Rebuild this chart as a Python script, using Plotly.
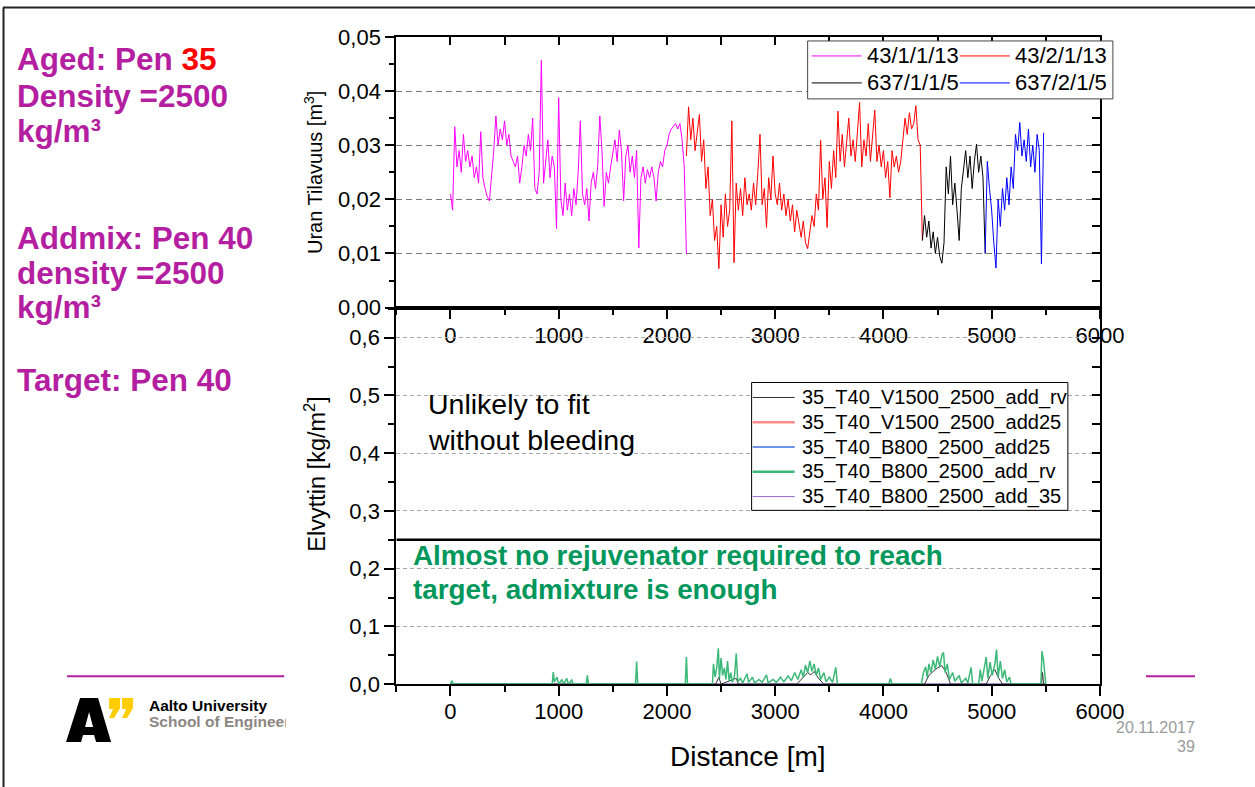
import numpy as np
import plotly.graph_objects as go

W, H = 1255, 787
FONT = "Liberation Sans, Arial, sans-serif"

# ---------------- data: top chart (Uran Tilavuus, m3) ----------------
STEP_M = 20
mag_start = 0
mag_vals = [0.021, 0.018, 0.0334, 0.026, 0.029, 0.025, 0.032, 0.027, 0.029, 0.026,
            0.028, 0.024, 0.026, 0.023, 0.0325, 0.024, 0.022, 0.0205, 0.0197, 0.024,
            0.029, 0.0354, 0.030, 0.033, 0.031, 0.0345, 0.030, 0.032, 0.028, 0.027,
            0.026, 0.028, 0.023, 0.026, 0.030, 0.028, 0.032, 0.029, 0.035, 0.022,
            0.021, 0.025, 0.0457, 0.023, 0.027, 0.031, 0.024, 0.028, 0.026, 0.0146,
            0.0388, 0.020, 0.017, 0.023, 0.018, 0.021, 0.017, 0.022, 0.019, 0.025,
            0.0345, 0.021, 0.019, 0.022, 0.016, 0.023, 0.025, 0.022, 0.026, 0.0354,
            0.029, 0.0187, 0.025, 0.023, 0.026, 0.029, 0.031, 0.027, 0.0328, 0.029,
            0.0197, 0.028, 0.030, 0.025, 0.028, 0.024, 0.029, 0.011, 0.024, 0.026,
            0.023, 0.0255, 0.024, 0.026, 0.024, 0.0197, 0.025, 0.027, 0.026, 0.029,
            0.030, 0.032, 0.033, 0.0335, 0.034, 0.033, 0.034, 0.031, 0.026, 0.0099]
red_start = 2180
red_vals = [0.028, 0.0371, 0.031, 0.035, 0.029, 0.033, 0.0357, 0.027, 0.031, 0.022,
            0.026, 0.017, 0.020, 0.0124, 0.015, 0.0072, 0.019, 0.013, 0.021, 0.015,
            0.018, 0.0345, 0.0083, 0.023, 0.018, 0.022, 0.017, 0.024, 0.019, 0.021,
            0.018, 0.023, 0.019, 0.025, 0.032, 0.019, 0.022, 0.0148, 0.024, 0.020,
            0.028, 0.021, 0.019, 0.023, 0.018, 0.021, 0.017, 0.020, 0.016, 0.019,
            0.014, 0.018, 0.015, 0.013, 0.016, 0.012, 0.0109, 0.014, 0.017, 0.015,
            0.021, 0.018, 0.0309, 0.020, 0.024, 0.0148, 0.027, 0.022, 0.029, 0.024,
            0.0363, 0.027, 0.032, 0.026, 0.030, 0.035, 0.028, 0.031, 0.027, 0.033,
            0.0379, 0.026, 0.031, 0.028, 0.034, 0.027, 0.032, 0.0365, 0.027, 0.030,
            0.026, 0.029, 0.024, 0.027, 0.0203, 0.029, 0.026, 0.028, 0.025, 0.027,
            0.031, 0.035, 0.032, 0.036, 0.033, 0.034, 0.0373, 0.031, 0.030, 0.0124]
blk_start = 4360
blk_vals = [0.0124, 0.017, 0.013, 0.016, 0.011, 0.014, 0.010, 0.013, 0.0095, 0.0082,
            0.012, 0.026, 0.021, 0.028, 0.019, 0.023, 0.018, 0.0124, 0.022, 0.026,
            0.029, 0.024, 0.028, 0.022, 0.027, 0.0302, 0.025, 0.028, 0.024, 0.010]
blu_start = 4940
blu_vals = [0.010, 0.027, 0.022, 0.018, 0.012, 0.0073, 0.020, 0.015, 0.022, 0.018,
            0.024, 0.019, 0.026, 0.022, 0.032, 0.029, 0.0342, 0.028, 0.031, 0.027,
            0.033, 0.026, 0.030, 0.025, 0.032, 0.029, 0.0081, 0.0323]
top_names = ["43/1/1/13", "43/2/1/13", "637/1/1/5", "637/2/1/5"]
top_colors = ["#ff00ff", "#ff0000", "#000000", "#0000ff"]

# ---------------- data: bottom chart (Elvyttin, kg/m2) ----------------
grn_d = [0, 15, 25, 940, 950, 960, 985, 1000, 1030, 1045, 1075, 1090, 1120, 1135,
         1255, 1265, 1275, 1710, 1720, 1730, 2170, 2180, 2190, 2420, 2430, 2445,
         2460, 2475, 2485, 2500, 2515, 2530, 2545, 2560, 2575, 2590, 2605, 2625,
         2640, 2655, 2680, 2700, 2740, 2755, 2790, 2810, 2850, 2880, 2920, 2935,
         2980, 3010, 3050, 3080, 3120, 3150, 3180, 3210, 3240, 3260, 3280, 3300,
         3320, 3340, 3360, 3380, 3400, 3420, 3450, 3470, 3500, 3530, 3560, 3575,
         4050, 4065, 4080, 4350, 4370, 4390, 4405, 4420, 4440, 4460, 4480, 4500,
         4520, 4540, 4555, 4570, 4590, 4610, 4640, 4660, 4700, 4720, 4760, 4780,
         4810, 4825, 4880, 4895, 4910, 4930, 4950, 4965, 4985, 5005, 5030, 5045,
         5060, 5080, 5100, 5120, 5140, 5165, 5180, 5455, 5465, 5480, 5495, 5500]
grn_v = [0, 0.006, 0, 0, 0.021, 0.004, 0.012, 0, 0.008, 0, 0.01, 0, 0.007, 0,
         0, 0.015, 0, 0, 0.039, 0, 0, 0.047, 0, 0, 0.035, 0.012,
         0.028, 0.062, 0.01, 0.045, 0.015, 0.028, 0.008, 0.04, 0.005, 0.02, 0.003, 0.015,
         0.053, 0.004, 0.01, 0.002, 0.018, 0.003, 0.012, 0.002, 0.008, 0.003, 0.016, 0.002,
         0.008, 0.003, 0.012, 0.004, 0.014, 0.006, 0.02, 0.008, 0.025, 0.012, 0.033, 0.02,
         0.04, 0.022, 0.035, 0.015, 0.028, 0.008, 0.02, 0.004, 0.012, 0.003, 0.029, 0,
         0, 0.01, 0, 0, 0.02, 0.03, 0.012, 0.035, 0.02, 0.042, 0.025, 0.048,
         0.03, 0.05, 0.055, 0.02, 0.035, 0.008, 0.02, 0.005, 0.015, 0.002, 0.01, 0.002,
         0.029, 0, 0, 0.025, 0.005, 0.03, 0.047, 0.01, 0.038, 0.015, 0.035, 0.06,
         0.012, 0.04, 0.01, 0.025, 0.004, 0.012, 0, 0, 0.057, 0.04, 0.003, 0]
gry_d = [0, 2450, 2480, 2500, 2640, 2660, 3200, 3260, 3300, 3330, 3360, 3400, 3450,
         4380, 4420, 4460, 4500, 4540, 4580, 4620, 4950, 4990, 5030, 5060, 5100,
         5460, 5470, 5480, 5500]
gry_v = [0, 0, 0.012, 0, 0.01, 0, 0, 0.012, 0.02, 0.016, 0.022, 0.01, 0,
         0, 0.015, 0.022, 0.028, 0.032, 0.02, 0, 0, 0.015, 0.025, 0.012, 0,
         0, 0.02, 0, 0]
flat_d = [0, 5500]
flat_v = [0, 0]
bot_names = ["35_T40_V1500_2500_add_rv", "35_T40_V1500_2500_add25",
             "35_T40_B800_2500_add25", "35_T40_B800_2500_add_rv",
             "35_T40_B800_2500_add_35"]
bot_colors = ["#333333", "#ff8a8a", "#3f6fe0", "#3cb878", "#9b6bd0"]
bot_widths = [1, 2.5, 1.5, 2.5, 1]
threshold = 0.25

# tick labels
x_ticks = [0, 1000, 2000, 3000, 4000, 5000, 6000]
x_ticktext = ["0", "1000", "2000", "3000", "4000", "5000", "6000"]
top_y_ticks = [0, 0.01, 0.02, 0.03, 0.04, 0.05]
top_y_text = ["0,00", "0,01", "0,02", "0,03", "0,04", "0,05"]
bot_y_ticks = [0, 0.1, 0.2, 0.3, 0.4, 0.5, 0.6]
bot_y_text = ["0,0", "0,1", "0,2", "0,3", "0,4", "0,5", "0,6"]

# placement frame of the drawing area inside the photographed page
X0, PW = 1.0, 1230.0
Y0, PH = 11.0, 763.0


def fx(p):
    return (p - X0) / PW


def fy(p):
    return 1 - (p - Y0) / PH


def series_x(start, vals):
    return start + STEP_M * np.arange(len(vals))


fig = go.Figure()

top_series = [(mag_start, mag_vals), (red_start, red_vals), (blk_start, blk_vals), (blu_start, blu_vals)]
for (s, v), n, c in zip(top_series, top_names, top_colors):
    fig.add_trace(go.Scatter(x=series_x(s, v), y=v, mode="lines", name=n,
                             line=dict(color=c, width=1), xaxis="x", yaxis="y",
                             showlegend=False, hoverinfo="skip"))

bot_data = [(gry_d, gry_v), (flat_d, flat_v), (flat_d, flat_v),
            (grn_d, grn_v), (flat_d, flat_v)]
draw_order = [1, 2, 4, 0, 3]
for i in draw_order:
    d, v = bot_data[i]
    fig.add_trace(go.Scatter(x=d, y=v, mode="lines", name=bot_names[i],
                             line=dict(color=bot_colors[i], width=1.5 if i == 3 else 1),
                             xaxis="x2", yaxis="y2", showlegend=False, hoverinfo="skip"))

for xa, ya in [("x3", "y"), ("x", "y3"), ("x2", "y4")]:
    fig.add_trace(go.Scatter(x=[None], y=[None], xaxis=xa, yaxis=ya,
                             showlegend=False, hoverinfo="skip"))

XD = [fx(397), fx(1100)]
axis_common = dict(showline=True, linecolor="black", linewidth=2, mirror=True,
                   zeroline=False, ticks="outside", tickcolor="black", tickwidth=2,
                   tickfont=dict(family=FONT, size=22, color="black"))

fig.update_layout(
    width=W, height=H, autosize=False, margin=dict(l=0, r=0, t=0, b=0, pad=0),
    paper_bgcolor="white", plot_bgcolor="white",
    font=dict(family=FONT, color="black"),
    showlegend=False,
    xaxis=dict(domain=XD, anchor="y", range=[-500, 6000], tickvals=x_ticks,
               ticktext=x_ticktext, ticklen=9, showgrid=False,
               ticklabelstandoff=-2,
               minor=dict(tickmode="linear", tick0=0, dtick=500, ticks="outside",
                          ticklen=5, tickwidth=2, tickcolor="black", showgrid=False),
               **axis_common),
    yaxis=dict(domain=[fy(307), fy(36)], anchor="x", range=[0, 0.05],
               tickvals=top_y_ticks, ticktext=top_y_text, ticklen=9,
               showgrid=True, gridcolor="#7a7a7a", gridwidth=1, griddash="6px,4px",
               minor=dict(tickmode="linear", tick0=0, dtick=0.005, ticks="outside",
                          ticklen=5, tickwidth=2, tickcolor="black", showgrid=False),
               title=dict(text="Uran Tilavuus [m<sup>3</sup>]",
                          font=dict(family=FONT, size=20), standoff=10),
               **axis_common),
    xaxis2=dict(domain=XD, anchor="y2", range=[-500, 6000], tickvals=x_ticks,
                ticktext=x_ticktext, ticklen=10, showgrid=False,
                ticklabelstandoff=-4,
                minor=dict(tickmode="linear", tick0=0, dtick=500, ticks="outside",
                           ticklen=6, tickwidth=2, tickcolor="black", showgrid=False),
                **axis_common),
    yaxis2=dict(domain=[fy(684), fy(307)], anchor="x2", range=[0, 0.652],
                tickvals=bot_y_ticks, ticktext=bot_y_text, ticklen=10,
                showgrid=True, gridcolor="#a8a8a8", gridwidth=1, griddash="4px,3px",
                minor=dict(tickmode="linear", tick0=0, dtick=0.05, ticks="outside",
                           ticklen=6, tickwidth=2, tickcolor="black", showgrid=False),
                **axis_common),
    xaxis3=dict(overlaying="x", anchor="y", side="top", range=[-500, 6000],
                tickmode="linear", tick0=0, dtick=500, ticks="inside", ticklen=8,
                tickwidth=2, tickcolor="black", showticklabels=False,
                showline=False, showgrid=False, zeroline=False),
    yaxis3=dict(overlaying="y", anchor="x", side="right", range=[0, 0.05],
                tickmode="linear", tick0=0, dtick=0.005, ticks="inside", ticklen=8,
                tickwidth=2, tickcolor="black", showticklabels=False,
                showline=False, showgrid=False, zeroline=False),
    yaxis4=dict(overlaying="y2", anchor="x2", side="right", range=[0, 0.652],
                tickmode="linear", tick0=0, dtick=0.05, ticks="inside", ticklen=8,
                tickwidth=2, tickcolor="black", showticklabels=False,
                showline=False, showgrid=False, zeroline=False),
)

shapes = []
ann = []


def txt(x, y, text, size, color="black", bold=False, xanchor="left", yanchor="middle", **kw):
    ann.append(dict(x=fx(x), y=fy(y), xref="paper", yref="paper", showarrow=False,
                    text=f"<b>{text}</b>" if bold else text, xanchor=xanchor,
                    yanchor=yanchor, align="left" if xanchor == "left" else "right",
                    font=dict(family=FONT, size=size, color=color), **kw))


def hline(x0, x1, y, color, width, **kw):
    shapes.append(dict(type="line", xref="paper", yref="paper", x0=fx(x0), x1=fx(x1),
                       y0=fy(y), y1=fy(y), line=dict(color=color, width=width), **kw))


# ---- legend boxes ----
shapes.append(dict(type="rect", xref="paper", yref="paper", x0=fx(808), x1=fx(1113),
                   y0=fy(98), y1=fy(40), line=dict(color="#444444", width=1),
                   fillcolor="white", layer="above"))
top_leg_pos = [(812, 55), (960, 55), (812, 82), (960, 82)]
for (lx, ly), n, c in zip(top_leg_pos, top_names, top_colors):
    hline(lx, lx + 50, ly, c, 1, layer="above")
    txt(lx + 53, ly, n, 22)

shapes.append(dict(type="rect", xref="paper", yref="paper", x0=fx(752), x1=fx(1068),
                   y0=fy(510), y1=fy(382), line=dict(color="black", width=1),
                   fillcolor="white", layer="above"))
for k, (n, c, w) in enumerate(zip(bot_names, bot_colors, bot_widths)):
    ly = 397 + 24.8 * k
    hline(753, 795, ly, c, w, layer="above")
    txt(800, ly, n, 20)

shapes.append(dict(type="line", xref="x2", yref="y2", x0=-500, x1=6000,
                   y0=threshold, y1=threshold, line=dict(color="black", width=2.5),
                   layer="above"))
# slide frame
shapes.append(dict(type="line", xref="paper", yref="paper", x0=fx(4.5), x1=fx(4.5),
                   y0=-0.05, y1=fy(6.5), line=dict(color="#222222", width=2)))
hline(4, 1260, 6.5, "#222222", 2)
PURPLE = "#b41ea0"
hline(68, 285, 676, PURPLE, 2)
hline(1146, 1195, 676, PURPLE, 2)


def path(points_list):
    s = ""
    for pts in points_list:
        s += "M " + " L ".join(f"{fx(a):.5f},{fy(b):.5f}" for a, b in pts) + " Z "
    return s


shapes.append(dict(type="path", xref="paper", yref="paper",
                   path=path([[(67, 742), (81, 698), (99, 698), (112, 742), (97, 742),
                               (95, 735), (84, 735), (82, 742)],
                              [(86, 727), (94, 727), (90, 712)]]),
                   fillcolor="black", line=dict(width=0), fillrule="evenodd"))
for qx in (110, 123):
    shapes.append(dict(type="path", xref="paper", yref="paper",
                       path=path([[(qx, 698), (qx + 11, 698), (qx + 11, 708), (qx + 5, 718),
                                   (qx, 718), (qx + 4, 709), (qx, 709)]]),
                       fillcolor="#ffcd00", line=dict(width=0)))
fig.update_layout(shapes=shapes)

txt(16, 58, "Aged: Pen <span style='color:#ff0000'>35</span>", 31.5, PURPLE, True)
txt(16, 95, "Density =2500", 31.5, PURPLE, True)
txt(16, 130, "kg/m³", 31.5, PURPLE, True)
txt(16, 237, "Addmix: Pen 40", 31.5, PURPLE, True)
txt(16, 272, "density =2500", 31.5, PURPLE, True)
txt(16, 306, "kg/m³", 31.5, PURPLE, True)
txt(16, 379, "Target: Pen 40", 31.5, PURPLE, True)

ann.append(dict(x=fx(316), y=fy(474), xref="paper", yref="paper", showarrow=False,
                text="Elvyttin [kg/m<sup>2</sup>]", textangle=-90, xanchor="center",
                yanchor="middle", font=dict(family=FONT, size=23.5, color="black")))
ann.append(dict(x=fx(748), y=fy(756), xref="paper", yref="paper", showarrow=False,
                text="Distance [m]", xanchor="center", yanchor="middle",
                font=dict(family=FONT, size=28, color="black")))

txt(427, 404, "Unlikely to fit", 28.5)
txt(427, 440, "without bleeding", 28.5)
GREEN = "#00975c"
txt(412, 555, "Almost no rejuvenator required to reach", 27.8, GREEN, True)
txt(412, 589, "target, admixture is enough", 27.8, GREEN, True)

txt(148, 705, "Aalto University", 15.5, "black", True)
txt(148, 721, "School of Engineering", 15.5, "#8c8782", True, width=137)
txt(1197, 727, "20.11.2017", 16, "#9a9a9a", False, xanchor="right")
txt(1197, 746, "39", 16, "#9a9a9a", False, xanchor="right")

fig.update_layout(annotations=ann)

fig.write_html("out.html", config={"displayModeBar": False, "responsive": False},
               post_script="document.body.style.margin='0';"
                           "document.documentElement.style.overflow='hidden';")
